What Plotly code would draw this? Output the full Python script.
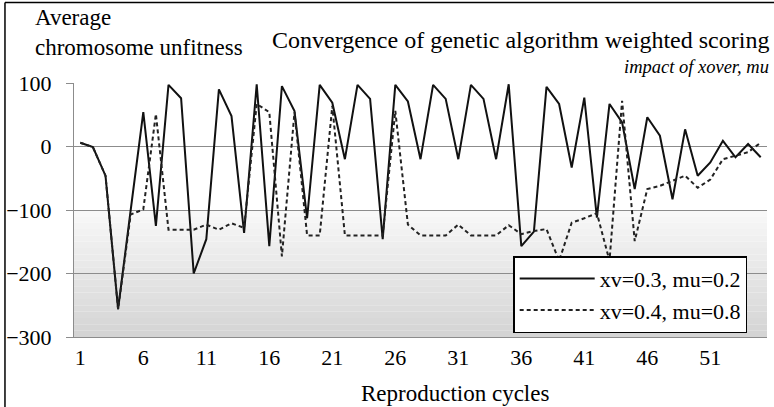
import plotly.graph_objects as go

cycles = list(range(1, 56))
tick_vals = [1, 6, 11, 16, 21, 26, 31, 36, 41, 46, 51]
tick_text = [str(v) for v in tick_vals]
y_ticks = [100, 0, -100, -200, -300]

series1_name = "xv=0.3, mu=0.2"
series1 = [6, -1, -46, -256, -100, 54, -125, 97, 76, -200, -146, 90, 48, -136, 98,
           -157, 95, 56, -113, 97, 69, -20, 97, 75, -146, 97, 71, -20, 97, 75,
           -20, 97, 75, -20, 98, -157, -134, 94, 67, -33, 77, -112, 67, 38, -67,
           46, 17, -83, 27, -46, -25, 9, -17, 4, -17]

series2_name = "xv=0.4, mu=0.8"
series2 = [6, -1, -46, -256, -107, -99, 51, -131, -131, -131, -123, -131, -121, -128, 67,
           54, -173, 54, -140, -140, 64, -140, -140, -140, -140, 56, -123, -140, -140, -140,
           -123, -140, -140, -140, -124, -138, -133, -130, -180, -120, -113, -105, -180, 72, -149,
           -67, -62, -54, -46, -65, -52, -20, -15, -9, 6]

FONT = "Liberation Serif"

# plot area in pixels
L, R, T, B = 74, 766.7, 83.3, 336.7
W, H = R - L, B - T
def px(x):
    return (x - L) / W
def py(y):
    return (B - y) / H

fig = go.Figure()
fig.add_trace(go.Scatter(x=cycles, y=series1, mode="lines", name=series1_name,
                         line=dict(color="#111111", width=2)))
fig.add_trace(go.Scatter(x=cycles, y=series2, mode="lines", name=series2_name,
                         line=dict(color="#222222", width=2, dash="4px,3px")))

shapes = []
n = 20
for k in range(n):
    y0 = -100 - k * 200 / n
    y1 = y0 - 200 / n
    g = int(249 - (249 - 212) * (k + 0.5) / n)
    shapes.append(dict(type="rect", xref="x", yref="y", x0=0.5, x1=55.5, y0=y1, y1=y0,
                       line=dict(width=0), fillcolor=f"rgb({g},{g},{g})", layer="below"))
# outer frame: left and top edges
shapes.append(dict(type="line", xref="paper", yref="paper", x0=px(5), x1=px(5),
                   y0=py(407), y1=py(3), line=dict(color="black", width=1.5)))
shapes.append(dict(type="line", xref="paper", yref="paper", x0=px(5), x1=px(774),
                   y0=py(3), y1=py(3), line=dict(color="black", width=1.5)))

annotations = [
    dict(text="Average<br>chromosome unfitness", xref="paper", yref="paper",
         x=px(33), y=py(3), xanchor="left", yanchor="top", align="left",
         showarrow=False, font=dict(family=FONT, size=23, color="black")),
    dict(text="Convergence of genetic algorithm weighted scoring", xref="paper", yref="paper",
         x=px(771), y=py(40), xanchor="right", yanchor="middle",
         showarrow=False, font=dict(family=FONT, size=24, color="black")),
    dict(text="<i>impact of xover, mu</i>", xref="paper", yref="paper",
         x=px(771), y=py(67), xanchor="right", yanchor="middle",
         showarrow=False, font=dict(family=FONT, size=18.5, color="black")),
    dict(text="Reproduction cycles", xref="paper", yref="paper",
         x=px(455), y=py(393), xanchor="center", yanchor="middle",
         showarrow=False, font=dict(family=FONT, size=23, color="black")),
]

fig.update_layout(
    width=774, height=407,
    margin=dict(l=L, r=774 - R, t=T, b=407 - B),
    paper_bgcolor="white", plot_bgcolor="white",
    showlegend=True,
    legend=dict(x=px(513), y=py(256), xanchor="left", yanchor="top",
                bgcolor="white", bordercolor="black", borderwidth=1.5,
                font=dict(family=FONT, size=22, color="black"),
                itemwidth=75, tracegroupgap=0),
    shapes=shapes,
    annotations=annotations,
    font=dict(family=FONT, size=22, color="black"),
)
fig.update_xaxes(range=[0.5, 55.5], tickmode="array", tickvals=tick_vals, ticktext=tick_text,
                 showgrid=False, zeroline=False, showline=True, linecolor="#8c8c8c", linewidth=1,
                 ticks="", ticklabelstandoff=1,
                 tickfont=dict(family=FONT, size=22, color="black"))
fig.update_yaxes(range=[-300, 100], tickmode="array", tickvals=y_ticks,
                 showgrid=True, gridcolor="#8c8c8c", gridwidth=1, zeroline=False,
                 showline=True, linecolor="#8c8c8c", linewidth=1,
                 ticks="outside", ticklen=7, tickcolor="#8c8c8c", ticklabelstandoff=10,
                 tickfont=dict(family=FONT, size=22, color="black"))

fig.write_html("out.html", config={"displayModeBar": False},
               post_script="document.body.style.margin='0';document.body.style.overflow='hidden';")
